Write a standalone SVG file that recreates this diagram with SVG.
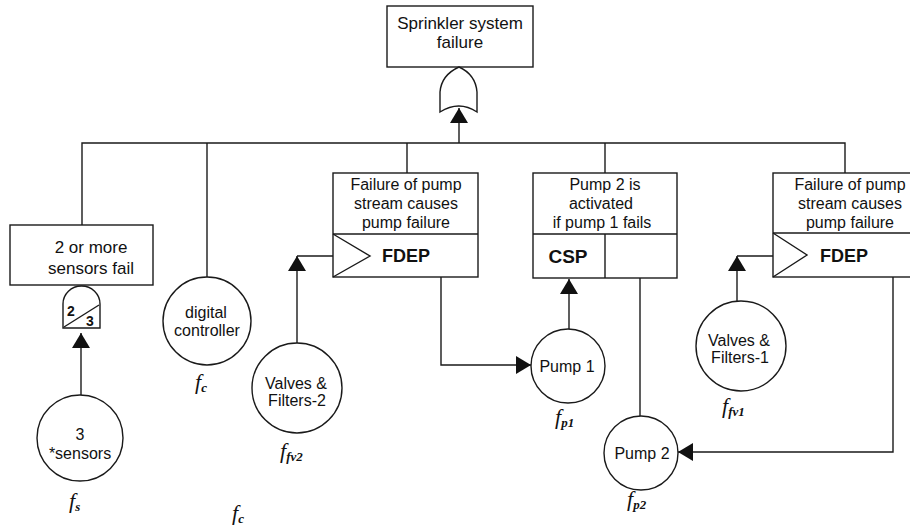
<svg xmlns="http://www.w3.org/2000/svg" width="910" height="532" viewBox="0 0 910 532">
<defs>
<style>
.ln{fill:none;stroke:#1a1a1a;stroke-width:1.4}
.bx{fill:#fff;stroke:#1a1a1a;stroke-width:1.4}
.t{font-family:"Liberation Sans",Arial,sans-serif;font-size:17px;fill:#111;text-anchor:middle}
.m{font-family:"Liberation Sans",Arial,sans-serif;font-size:16px;fill:#111;text-anchor:middle}
.c{font-family:"Liberation Sans",Arial,sans-serif;font-size:16px;fill:#111;text-anchor:middle}
.b{font-family:"Liberation Sans",Arial,sans-serif;font-weight:bold;fill:#111}
.f{font-family:"Liberation Serif","Times New Roman",serif;font-style:italic;font-size:22px;fill:#111}
.s{font-size:13px;font-weight:bold}
</style>
<marker id="ah" markerUnits="userSpaceOnUse" markerWidth="16" markerHeight="18" viewBox="0 0 15 18" refX="15" refY="9" orient="auto">
<path d="M0,0 L15,9 L0,18 Z" fill="#111"/>
</marker>
</defs>

<g id="connectors">
<path class="ln" d="M82,225 L82,143 L845,143 L845,173"/>
<path class="ln" d="M207,143 L207,277"/>
<path class="ln" d="M407,143 L407,173"/>
<path class="ln" d="M605,143 L605,173"/>
<path class="ln" d="M459,143 L459,108" marker-end="url(#ah)"/>
<path class="ln" d="M81,396 L81,333" marker-end="url(#ah)"/>
<path class="ln" d="M297,344 L297,256" marker-end="url(#ah)"/>
<path class="ln" d="M297,256 L333,256"/>
<path class="ln" d="M441,277 L441,365 L531,365" marker-end="url(#ah)"/>
<path class="ln" d="M569,329 L569,279" marker-end="url(#ah)"/>
<path class="ln" d="M640,278 L640,416"/>
<path class="ln" d="M737,301 L737,256" marker-end="url(#ah)"/>
<path class="ln" d="M737,256 L773,256"/>
<path class="ln" d="M893,277 L893,452 L678,452" marker-end="url(#ah)"/>
</g>

<g id="top-event">
<rect class="bx" x="387" y="6" width="146" height="61"/>
<text class="t" x="460" y="29">Sprinkler system</text>
<text class="t" x="460" y="48">failure</text>
<path class="bx" d="M459,67 C448,72 441,80 440,92 L440,112 Q459,100 477,112 L477,92 C476,80 470,72 459,67 Z"/>
</g>

<g id="sensors-gate">
<rect class="bx" x="10" y="225" width="143" height="60"/>
<text class="t" x="91" y="253">2 or more</text>
<text class="t" x="91" y="274">sensors fail</text>
<path class="bx" d="M63,328 L63,304 A18.5,18 0 0 1 100,304 L100,328 Z"/>
<path class="ln" d="M64,327 L99,305"/>
<text class="b" x="67" y="316" font-size="14">2</text>
<text class="b" x="86" y="326" font-size="14">3</text>
</g>

<g id="sensors">
<circle class="bx" cx="80" cy="438" r="43"/>
<text class="c" x="80" y="440">3</text>
<text class="c" x="80" y="459">*sensors</text>
<text class="f" x="69" y="508">f<tspan class="s" dy="3">s</tspan></text>
</g>

<g id="digital-controller">
<circle class="bx" cx="207" cy="321" r="44"/>
<text class="c" x="206" y="318">digital</text>
<text class="c" x="207" y="336">controller</text>
<text class="f" x="195" y="389">f<tspan class="s" dy="3">c</tspan></text>
</g>

<g id="label-fc2">
<text class="f" x="232" y="520">f<tspan class="s" dy="3">c</tspan></text>
</g>

<g id="valves-filters-2">
<circle class="bx" cx="297" cy="388" r="45"/>
<text class="c" x="296" y="389">Valves &amp;</text>
<text class="c" x="297" y="406">Filters-2</text>
<text class="f" x="280" y="458">f<tspan class="s" dy="3">fv2</tspan></text>
</g>

<g id="fdep-1">
<rect class="bx" x="333" y="173" width="145" height="104"/>
<path class="ln" d="M333,234 L478,234"/>
<path class="ln" d="M333,234 L370,256 L333,277"/>
<text class="m" x="406" y="190">Failure of pump</text>
<text class="m" x="406" y="209">stream causes</text>
<text class="m" x="406" y="228">pump failure</text>
<text class="b" x="382" y="262" font-size="18">FDEP</text>
</g>

<g id="csp">
<rect class="bx" x="533" y="173" width="144" height="105"/>
<path class="ln" d="M533,234 L677,234 M605,234 L605,278"/>
<text class="m" x="605" y="190">Pump 2 is</text>
<text class="m" x="601" y="209">activated</text>
<text class="m" x="602" y="228">if pump 1 fails</text>
<text class="b" x="568" y="263" font-size="19" text-anchor="middle">CSP</text>
</g>

<g id="fdep-2">
<rect class="bx" x="773" y="173" width="150" height="104"/>
<path class="ln" d="M773,233 L923,233"/>
<path class="ln" d="M773,233 L807,255 L773,277"/>
<text class="m" x="850" y="190">Failure of pump</text>
<text class="m" x="850" y="209">stream causes</text>
<text class="m" x="850" y="228">pump failure</text>
<text class="b" x="820" y="262" font-size="18">FDEP</text>
</g>

<g id="pump-1">
<circle class="bx" cx="568" cy="366" r="37"/>
<text class="c" x="567" y="372">Pump 1</text>
<text class="f" x="555" y="424">f<tspan class="s" dy="3">p1</tspan></text>
</g>

<g id="pump-2">
<circle class="bx" cx="641" cy="453" r="37"/>
<text class="c" x="642" y="459">Pump 2</text>
<text class="f" x="627" y="506">f<tspan class="s" dy="3">p2</tspan></text>
</g>

<g id="valves-filters-1">
<circle class="bx" cx="741" cy="346" r="45"/>
<text class="c" x="739" y="346">Valves &amp;</text>
<text class="c" x="740" y="363">Filters-1</text>
<text class="f" x="722" y="413">f<tspan class="s" dy="3">fv1</tspan></text>
</g>
</svg>
